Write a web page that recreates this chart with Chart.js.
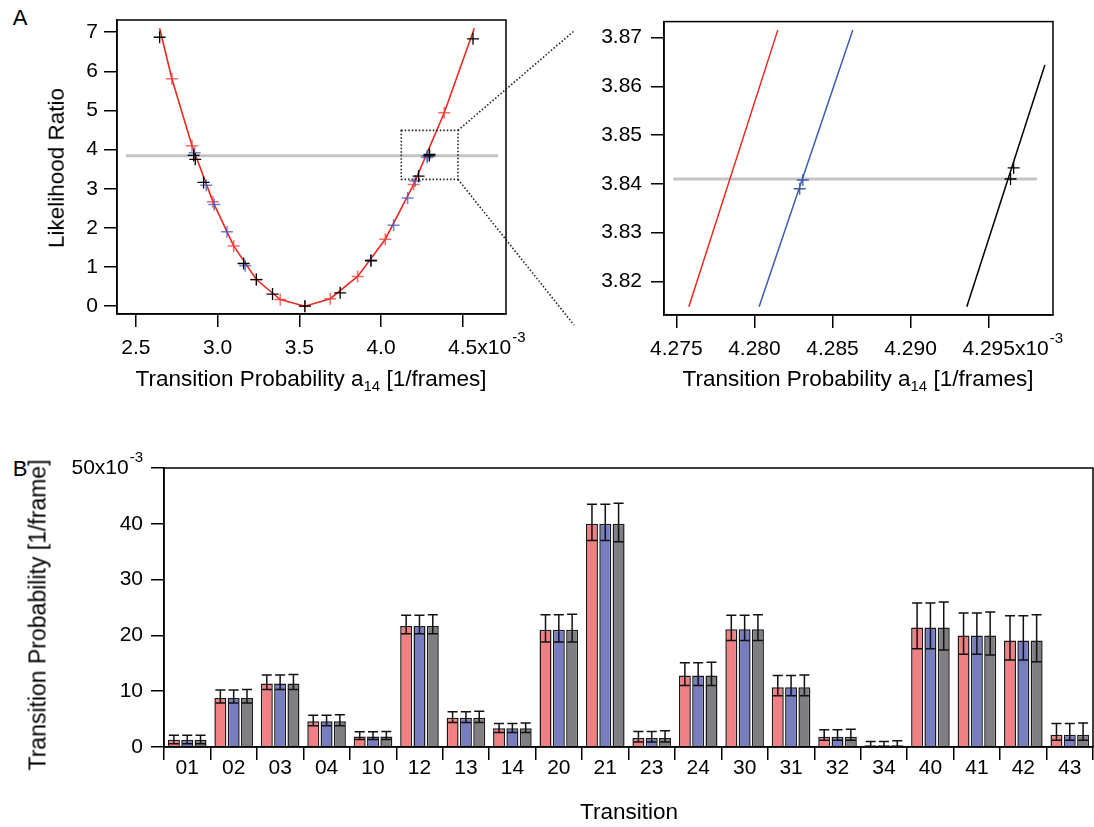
<!DOCTYPE html>
<html><head><meta charset="utf-8">
<script src="https://cdn.jsdelivr.net/npm/chart.js@4.4.1/dist/chart.umd.min.js"></script>
<style>
html,body{margin:0;padding:0;background:#fff;}
body{width:1094px;height:827px;position:relative;overflow:hidden;font-family:"Liberation Sans",Arial,Helvetica,sans-serif;color:#000;}
canvas{position:absolute;}
.t{position:absolute;transform:translate(-50%,-50%);font-size:22.5px;white-space:nowrap;line-height:1;}
.ty{position:absolute;transform:translate(-50%,-50%) rotate(-90deg);font-size:22.5px;white-space:nowrap;line-height:1;}
.sub{font-size:15px;vertical-align:-5px;}
</style></head><body>
<div class="t" style="left:20px;top:18px;font-size:22px">A</div>
<div class="t" style="left:20px;top:469px;font-size:22px">B</div>
<canvas id="cLeft" width="580" height="400" style="left:0;top:0"></canvas>
<canvas id="cRight" width="514" height="400" style="left:580px;top:0"></canvas>
<canvas id="cBars" width="1094" height="387" style="left:0;top:440px"></canvas>
<div class="ty" style="left:57px;top:168px">Likelihood Ratio</div>
<div class="t" style="left:311px;top:380px">Transition Probability a<span class="sub">14</span> [1/frames]</div>
<div class="t" style="left:858px;top:380px">Transition Probability a<span class="sub">14</span> [1/frames]</div>
<div class="ty" style="left:38px;top:615px;font-size:23px">Transition Probability [1/frame]</div>
<div class="t" style="left:629px;top:812px">Transition</div>
<script>
const FF = '"Liberation Sans", Arial, Helvetica, sans-serif';
Chart.defaults.font.family = FF;
Chart.defaults.color = '#000';

// ---------- Panel A, left (x in units of 1e-3 1/frames) ----------
const curveX = [2.645, 2.720, 2.843, 2.971, 3.098, 3.237, 3.383, 3.534, 3.689, 3.857, 4.026, 4.200, 4.387, 4.571];
const curveY = [7.10, 5.81, 4.10, 2.67, 1.54, 0.68, 0.17, 0.00, 0.19, 0.76, 1.71, 3.11, 4.94, 7.10];
const blueX = [2.859, 2.930, 2.979, 3.057, 3.169, 3.940, 4.077, 4.163, 4.209, 4.283, 4.283];
const blueY = [3.92, 3.09, 2.60, 1.90, 1.03, 1.18, 2.07, 2.76, 3.20, 3.84, 3.80];
const blackX = [2.645, 2.853, 2.863, 2.914, 3.159, 3.237, 3.336, 3.534, 3.750, 3.938, 4.230, 4.296, 4.297, 4.563];
const blackY = [6.87, 3.85, 3.75, 3.16, 1.09, 0.68, 0.31, 0.00, 0.34, 1.16, 3.32, 3.84, 3.88, 6.83];
const thresholdLR = 3.841;
const thresholdX = [2.439, 4.716];
const zoomBoxX = [4.124, 4.471];
const zoomBoxY = [3.24, 4.49];
const leftXTicks = [2.5, 3.0, 3.5, 4.0, 4.5];
const leftYTicks = [0, 1, 2, 3, 4, 5, 6, 7];

// ---------- Panel A, right (zoom) ----------
const zRedX = [4.2758, 4.2815];   const zRedY = [3.8148, 3.8716];
const zBlueX = [4.2803, 4.2863];  const zBlueY = [3.8148, 3.8716];
const zBlackX = [4.2936, 4.2986]; const zBlackY = [3.8148, 3.8644];
const zBlueMX = [4.2831, 4.2829]; const zBlueMY = [3.8408, 3.8390];
const zBlackMX = [4.2964, 4.2966]; const zBlackMY = [3.8410, 3.8433];
const zThreshX = [4.2748, 4.2981];
const rightXTicks = [4.275, 4.280, 4.285, 4.290, 4.295];
const rightYTicks = [3.82, 3.83, 3.84, 3.85, 3.86, 3.87];

// ---------- Panel B (values in units of 1e-3 1/frame) ----------
const transitions = ['01','02','03','04','10','12','13','14','20','21','23','24','30','31','32','34','40','41','42','43'];
const probRed  = [1.3, 8.8, 11.4, 4.6, 1.9, 21.7, 5.25, 3.35, 21.0, 40.0, 1.6, 12.8, 21.1, 10.7, 1.85, 0.3, 21.4, 20.0, 19.1, 2.2];
const lowRed   = [0.6, 7.9, 10.3, 3.8, 1.35, 20.3, 4.4, 2.6, 18.8, 37.0, 0.9, 11.0, 19.1, 9.2, 1.2, 0.1, 17.6, 16.6, 15.6, 1.2];
const highRed  = [2.1, 10.2, 12.9, 5.7, 2.75, 23.6, 6.3, 4.2, 23.7, 43.5, 2.8, 15.1, 23.6, 12.8, 3.1, 1.0, 25.8, 24.0, 23.5, 4.2];
const probBlue = [1.3, 8.8, 11.4, 4.6, 1.9, 21.7, 5.25, 3.35, 21.0, 40.0, 1.6, 12.8, 21.1, 10.7, 1.85, 0.3, 21.4, 20.0, 19.1, 2.2];
const lowBlue  = [0.6, 7.9, 10.3, 3.8, 1.35, 20.3, 4.4, 2.6, 18.8, 37.0, 0.9, 11.0, 19.1, 9.2, 1.2, 0.1, 17.6, 16.6, 15.6, 1.2];
const highBlue = [2.1, 10.2, 12.9, 5.7, 2.75, 23.6, 6.3, 4.2, 23.7, 43.5, 2.8, 15.1, 23.6, 12.8, 3.1, 1.0, 25.8, 24.0, 23.5, 4.2];
const probGray = [1.3, 8.8, 11.4, 4.6, 1.9, 21.7, 5.25, 3.35, 21.0, 40.0, 1.6, 12.8, 21.1, 10.7, 1.85, 0.3, 21.4, 20.0, 19.1, 2.2];
const lowGray  = [0.6, 7.9, 10.3, 3.8, 1.35, 20.3, 4.4, 2.6, 18.8, 36.8, 0.9, 11.0, 19.1, 9.2, 1.2, 0.1, 17.4, 16.5, 15.3, 1.2];
const highGray = [2.1, 10.3, 13.0, 5.8, 2.8, 23.7, 6.4, 4.3, 23.8, 43.7, 2.9, 15.2, 23.7, 12.9, 3.2, 1.1, 26.0, 24.2, 23.7, 4.3];
const barYTicks = [0, 10, 20, 30, 40, 50];

const pts = (xs, ys) => xs.map((x, i) => ({x, y: ys[i]}));

function axis(cfg) {
  const ticks = { font: {size: 21, family: FF}, color: '#000', padding: cfg.pad, autoSkip: false, maxRotation: 0, minRotation: 0 };
  if (cfg.fmt) ticks.callback = cfg.fmt;
  const a = {
    type: cfg.type || 'linear',
    offset: cfg.offset || false,
    afterFit: s => { if (cfg.w !== undefined) s.width = cfg.w; if (cfg.h !== undefined) s.height = cfg.h; },
    ticks,
    grid: { drawOnChartArea: false, drawTicks: true, tickLength: 13, color: '#000', lineWidth: 1.5, offset: cfg.gridOffset || false },
    border: { display: true, color: '#000', width: 1.5 }
  };
  if (cfg.min !== undefined) { a.min = cfg.min; a.max = cfg.max; }
  if (cfg.tickVals) a.afterBuildTicks = s => { s.ticks = cfg.tickVals.map(v => ({value: v})); };
  return a;
}

const framePlugin = {
  id: 'frame',
  afterDraw(chart) {
    const a = chart.chartArea, ctx = chart.ctx;
    ctx.save(); ctx.strokeStyle = '#000'; ctx.lineWidth = 1.5;
    ctx.strokeRect(a.left, a.top, a.right - a.left, a.bottom - a.top);
    ctx.restore();
  }
};

// "x10^-3" suffix after the last tick label of a bottom x-axis
function xExpPlugin(pad) {
  return {
    id: 'xexp',
    afterDraw(chart) {
      const sc = chart.scales.x, ctx = chart.ctx;
      const tk = sc.ticks[sc.ticks.length - 1];
      const px = sc.getPixelForValue(tk.value);
      const yc = sc.top + 13 + pad + 21 * 1.2 / 2;
      ctx.save(); ctx.fillStyle = '#000';
      ctx.font = '21px ' + FF;
      const w = ctx.measureText(String(tk.label)).width;
      ctx.textAlign = 'left'; ctx.textBaseline = 'middle';
      ctx.fillText('x10', px + w / 2, yc);
      const w2 = ctx.measureText('x10').width;
      ctx.font = '15px ' + FF;
      ctx.fillText('-3', px + w / 2 + w2 + 1, yc - 11);
      ctx.restore();
    }
  };
}

// ---------- Left chart ----------
const zoomBoxPlugin = {
  id: 'zoombox',
  afterDraw(chart) {
    const xs = chart.scales.x, ys = chart.scales.y, ctx = chart.ctx;
    const x0 = xs.getPixelForValue(zoomBoxX[0]), x1 = xs.getPixelForValue(zoomBoxX[1]);
    const y0 = ys.getPixelForValue(zoomBoxY[1]), y1 = ys.getPixelForValue(zoomBoxY[0]);
    ctx.save(); ctx.strokeStyle = '#222'; ctx.lineWidth = 1.6; ctx.setLineDash([1.5, 2]);
    ctx.strokeRect(x0, y0, x1 - x0, y1 - y0);
    ctx.beginPath();
    ctx.moveTo(x1, y0); ctx.lineTo(chart.width - 6, 31);
    ctx.moveTo(x1, y1); ctx.lineTo(chart.width - 6, 325);
    ctx.stroke();
    ctx.restore();
  }
};

new Chart(document.getElementById('cLeft'), {
  type: 'scatter',
  data: { datasets: [
    { data: pts(blackX, blackY), pointStyle: 'cross', pointRadius: 6, pointBorderColor: '#000', pointBorderWidth: 1.3, showLine: false },
    { data: pts(blueX, blueY), pointStyle: 'cross', pointRadius: 6, pointBorderColor: 'rgba(60,90,200,0.75)', pointBorderWidth: 1.5, showLine: false },
    { data: pts(curveX, curveY), showLine: true, borderColor: '#ea2a22', borderWidth: 1.6, pointStyle: 'cross',
      pointRadius: c => (c.dataIndex === 0 || c.dataIndex === curveX.length - 1) ? 0 : 6,
      pointBorderColor: 'rgba(240,60,60,0.75)', pointBorderWidth: 1.5 },
    { data: pts(thresholdX, [thresholdLR, thresholdLR]), showLine: true, borderColor: '#c4c4c4', borderWidth: 3, pointRadius: 0 }
  ]},
  options: {
    responsive: false, animation: false, devicePixelRatio: 1, events: [],
    layout: { padding: { left: 0, top: 20, right: 74, bottom: 0 } },
    plugins: { legend: { display: false }, tooltip: { enabled: false } },
    scales: {
      x: axis({ min: 2.384, max: 4.765, tickVals: leftXTicks, fmt: v => v.toFixed(1), pad: 9, h: 86 }),
      y: axis({ min: -0.2, max: 7.31, tickVals: leftYTicks, fmt: v => String(v), pad: 6, w: 117 })
    }
  },
  plugins: [framePlugin, zoomBoxPlugin, xExpPlugin(9)]
});

// ---------- Right chart ----------
new Chart(document.getElementById('cRight'), {
  type: 'scatter',
  data: { datasets: [
    { data: pts(zBlackMX, zBlackMY), pointStyle: 'cross', pointRadius: 6, pointBorderColor: '#000', pointBorderWidth: 1.3, showLine: false },
    { data: pts(zBlueMX, zBlueMY), pointStyle: 'cross', pointRadius: 6, pointBorderColor: '#3d5db0', pointBorderWidth: 1.3, showLine: false },
    { data: pts(zRedX, zRedY), showLine: true, borderColor: '#ea2a22', borderWidth: 1.5, pointRadius: 0 },
    { data: pts(zBlueX, zBlueY), showLine: true, borderColor: '#3d5db0', borderWidth: 1.5, pointRadius: 0 },
    { data: pts(zBlackX, zBlackY), showLine: true, borderColor: '#000', borderWidth: 1.5, pointRadius: 0 },
    { data: pts(zThreshX, [thresholdLR, thresholdLR]), showLine: true, borderColor: '#c4c4c4', borderWidth: 3, pointRadius: 0 }
  ]},
  options: {
    responsive: false, animation: false, devicePixelRatio: 1, events: [],
    layout: { padding: { left: 0, top: 20, right: 41, bottom: 0 } },
    plugins: { legend: { display: false }, tooltip: { enabled: false } },
    scales: {
      x: axis({ min: 4.27421, max: 4.29912, tickVals: rightXTicks, fmt: v => v.toFixed(3), pad: 9, h: 85 }),
      y: axis({ min: 3.8131, max: 3.8733, tickVals: rightYTicks, fmt: v => v.toFixed(2), pad: 9, w: 84 })
    }
  },
  plugins: [framePlugin, xExpPlugin(9)]
});

// ---------- Bar chart ----------
const errorBarPlugin = {
  id: 'errbars',
  afterDatasetsDraw(chart) {
    const ctx = chart.ctx, ys = chart.scales.y;
    ctx.save(); ctx.strokeStyle = '#111'; ctx.lineWidth = 1.5;
    chart.data.datasets.forEach((ds, di) => {
      const meta = chart.getDatasetMeta(di);
      meta.data.forEach((bar, i) => {
        const lo = ys.getPixelForValue(ds.errLow[i]), hi = ys.getPixelForValue(ds.errHigh[i]);
        const hw = bar.width / 2, cw = bar.width * 0.42;
        ctx.beginPath();
        ctx.moveTo(bar.x, lo); ctx.lineTo(bar.x, hi);
        ctx.moveTo(bar.x - cw, hi); ctx.lineTo(bar.x + cw, hi);
        ctx.moveTo(bar.x - hw + 1, lo); ctx.lineTo(bar.x + hw - 1, lo);
        ctx.stroke();
      });
    });
    ctx.restore();
  }
};
const yExpPlugin = {
  id: 'yexp',
  afterDraw(chart) {
    const sc = chart.scales.y, ctx = chart.ctx;
    const top = barYTicks[barYTicks.length - 1];
    const py = sc.getPixelForValue(top);
    const xr = sc.right - 13 - 8;
    ctx.save(); ctx.fillStyle = '#000'; ctx.textBaseline = 'middle'; ctx.textAlign = 'right';
    ctx.font = '15px ' + FF;
    const ws = ctx.measureText('-3').width;
    ctx.fillText('-3', xr, py - 10);
    ctx.font = '21px ' + FF;
    ctx.fillText(top + 'x10', xr - ws - 1, py);
    ctx.restore();
  }
};
const barCommon = { borderColor: '#1a1a1a', borderWidth: 1.5, barPercentage: 0.9, categoryPercentage: 0.86 };
new Chart(document.getElementById('cBars'), {
  type: 'bar',
  data: { labels: transitions, datasets: [
    Object.assign({ data: probRed, errLow: lowRed, errHigh: highRed, backgroundColor: '#f08083' }, barCommon),
    Object.assign({ data: probBlue, errLow: lowBlue, errHigh: highBlue, backgroundColor: '#777dbf' }, barCommon),
    Object.assign({ data: probGray, errLow: lowGray, errHigh: highGray, backgroundColor: '#7f7f83' }, barCommon)
  ]},
  options: {
    responsive: false, animation: false, devicePixelRatio: 1, events: [],
    layout: { padding: { left: 0, top: 28, right: 1, bottom: 0 } },
    plugins: { legend: { display: false }, tooltip: { enabled: false } },
    scales: {
      x: axis({ type: 'category', offset: true, gridOffset: true, pad: -4, h: 80 }),
      y: axis({ min: 0, max: 50, tickVals: barYTicks, fmt: v => v === 50 ? '' : String(v), pad: 8, w: 164 })
    }
  },
  plugins: [framePlugin, errorBarPlugin, yExpPlugin]
});
</script>
</body></html>
